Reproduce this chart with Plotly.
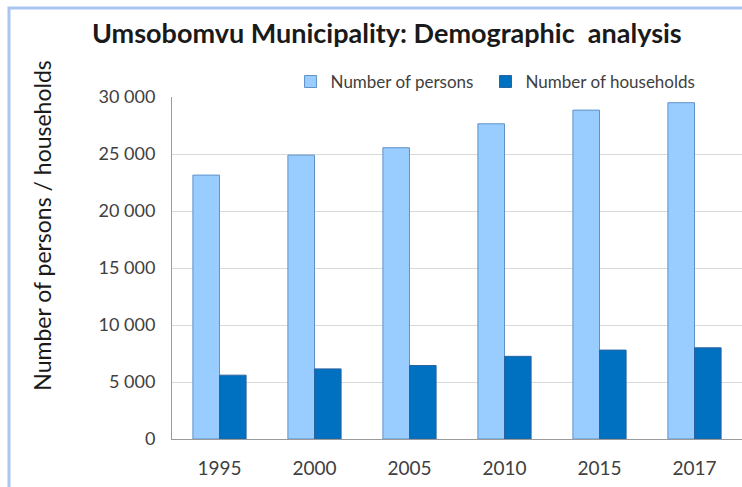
import plotly.graph_objects as go

years = ["1995", "2000", "2005", "2010", "2015", "2017"]
persons = [23150, 24900, 25550, 27650, 28850, 29500]
households = [5600, 6150, 6450, 7250, 7800, 8000]
y_ticks = [0, 5000, 10000, 15000, 20000, 25000, 30000]

FONT = "Lato"

fig = go.Figure()
fig.add_trace(go.Bar(x=years, y=persons, name="Number of persons", legend="legend",
                     marker=dict(color="#99ccff", line=dict(color="#5f93c8", width=1))))
fig.add_trace(go.Bar(x=years, y=households, name="Number of households", legend="legend2",
                     marker=dict(color="#0070c0", line=dict(color="#2a64a0", width=1))))

legend_common = dict(orientation="h", yanchor="middle", xanchor="left", y=1.044,
                     font=dict(size=17, color="#404040"), bgcolor="rgba(0,0,0,0)",
                     itemwidth=30)

fig.update_layout(
    width=742, height=487,
    margin=dict(l=172, r=0, t=97, b=48),
    paper_bgcolor="white", plot_bgcolor="white",
    barmode="group", bargap=0.44, bargroupgap=0,
    separators=". ",
    font=dict(family=FONT, color="#404040"),
    showlegend=True,
    legend=dict(x=0.208, **legend_common),
    legend2=dict(x=0.55, **legend_common),
    xaxis=dict(showline=True, linecolor="#9a9a9a", linewidth=1, ticks="outside", ticklen=12,
               tickcolor="rgba(0,0,0,0)",
               tickfont=dict(size=19, color="#404040"), showgrid=False),
    yaxis=dict(range=[0, 30000], tickvals=y_ticks, tickformat=",d",
               showline=True, linecolor="#9a9a9a", linewidth=1,
               gridcolor="#d9d9d9", gridwidth=1, ticks="outside", ticklen=12,
               tickcolor="rgba(0,0,0,0)",
               tickfont=dict(size=18, color="#404040"), zeroline=False),
    annotations=[
        dict(text="<b>Umsobomvu Municipality: Demographic  analysis</b>",
             xref="paper", yref="paper", x=0.377, y=1.19, xanchor="center", yanchor="middle",
             showarrow=False, font=dict(family=FONT, size=27, color="#1a1a1a")),
        dict(text="Number of persons / households", textangle=-90,
             xref="paper", yref="paper", x=-0.2285, y=0.623, xanchor="center", yanchor="middle",
             showarrow=False, font=dict(family=FONT, size=23, color="#1a1a1a")),
    ],
    shapes=[
        dict(type="rect", xref="paper", yref="paper", x0=-0.286, y0=-0.4, x1=1.2, y1=1.26,
             line=dict(color="#a9c6f2", width=3), fillcolor="rgba(0,0,0,0)", layer="below"),
    ],
)

fig.write_html("out.html", config={"displayModeBar": False},
               post_script="document.body.style.margin='0';document.body.style.overflow='hidden';")
